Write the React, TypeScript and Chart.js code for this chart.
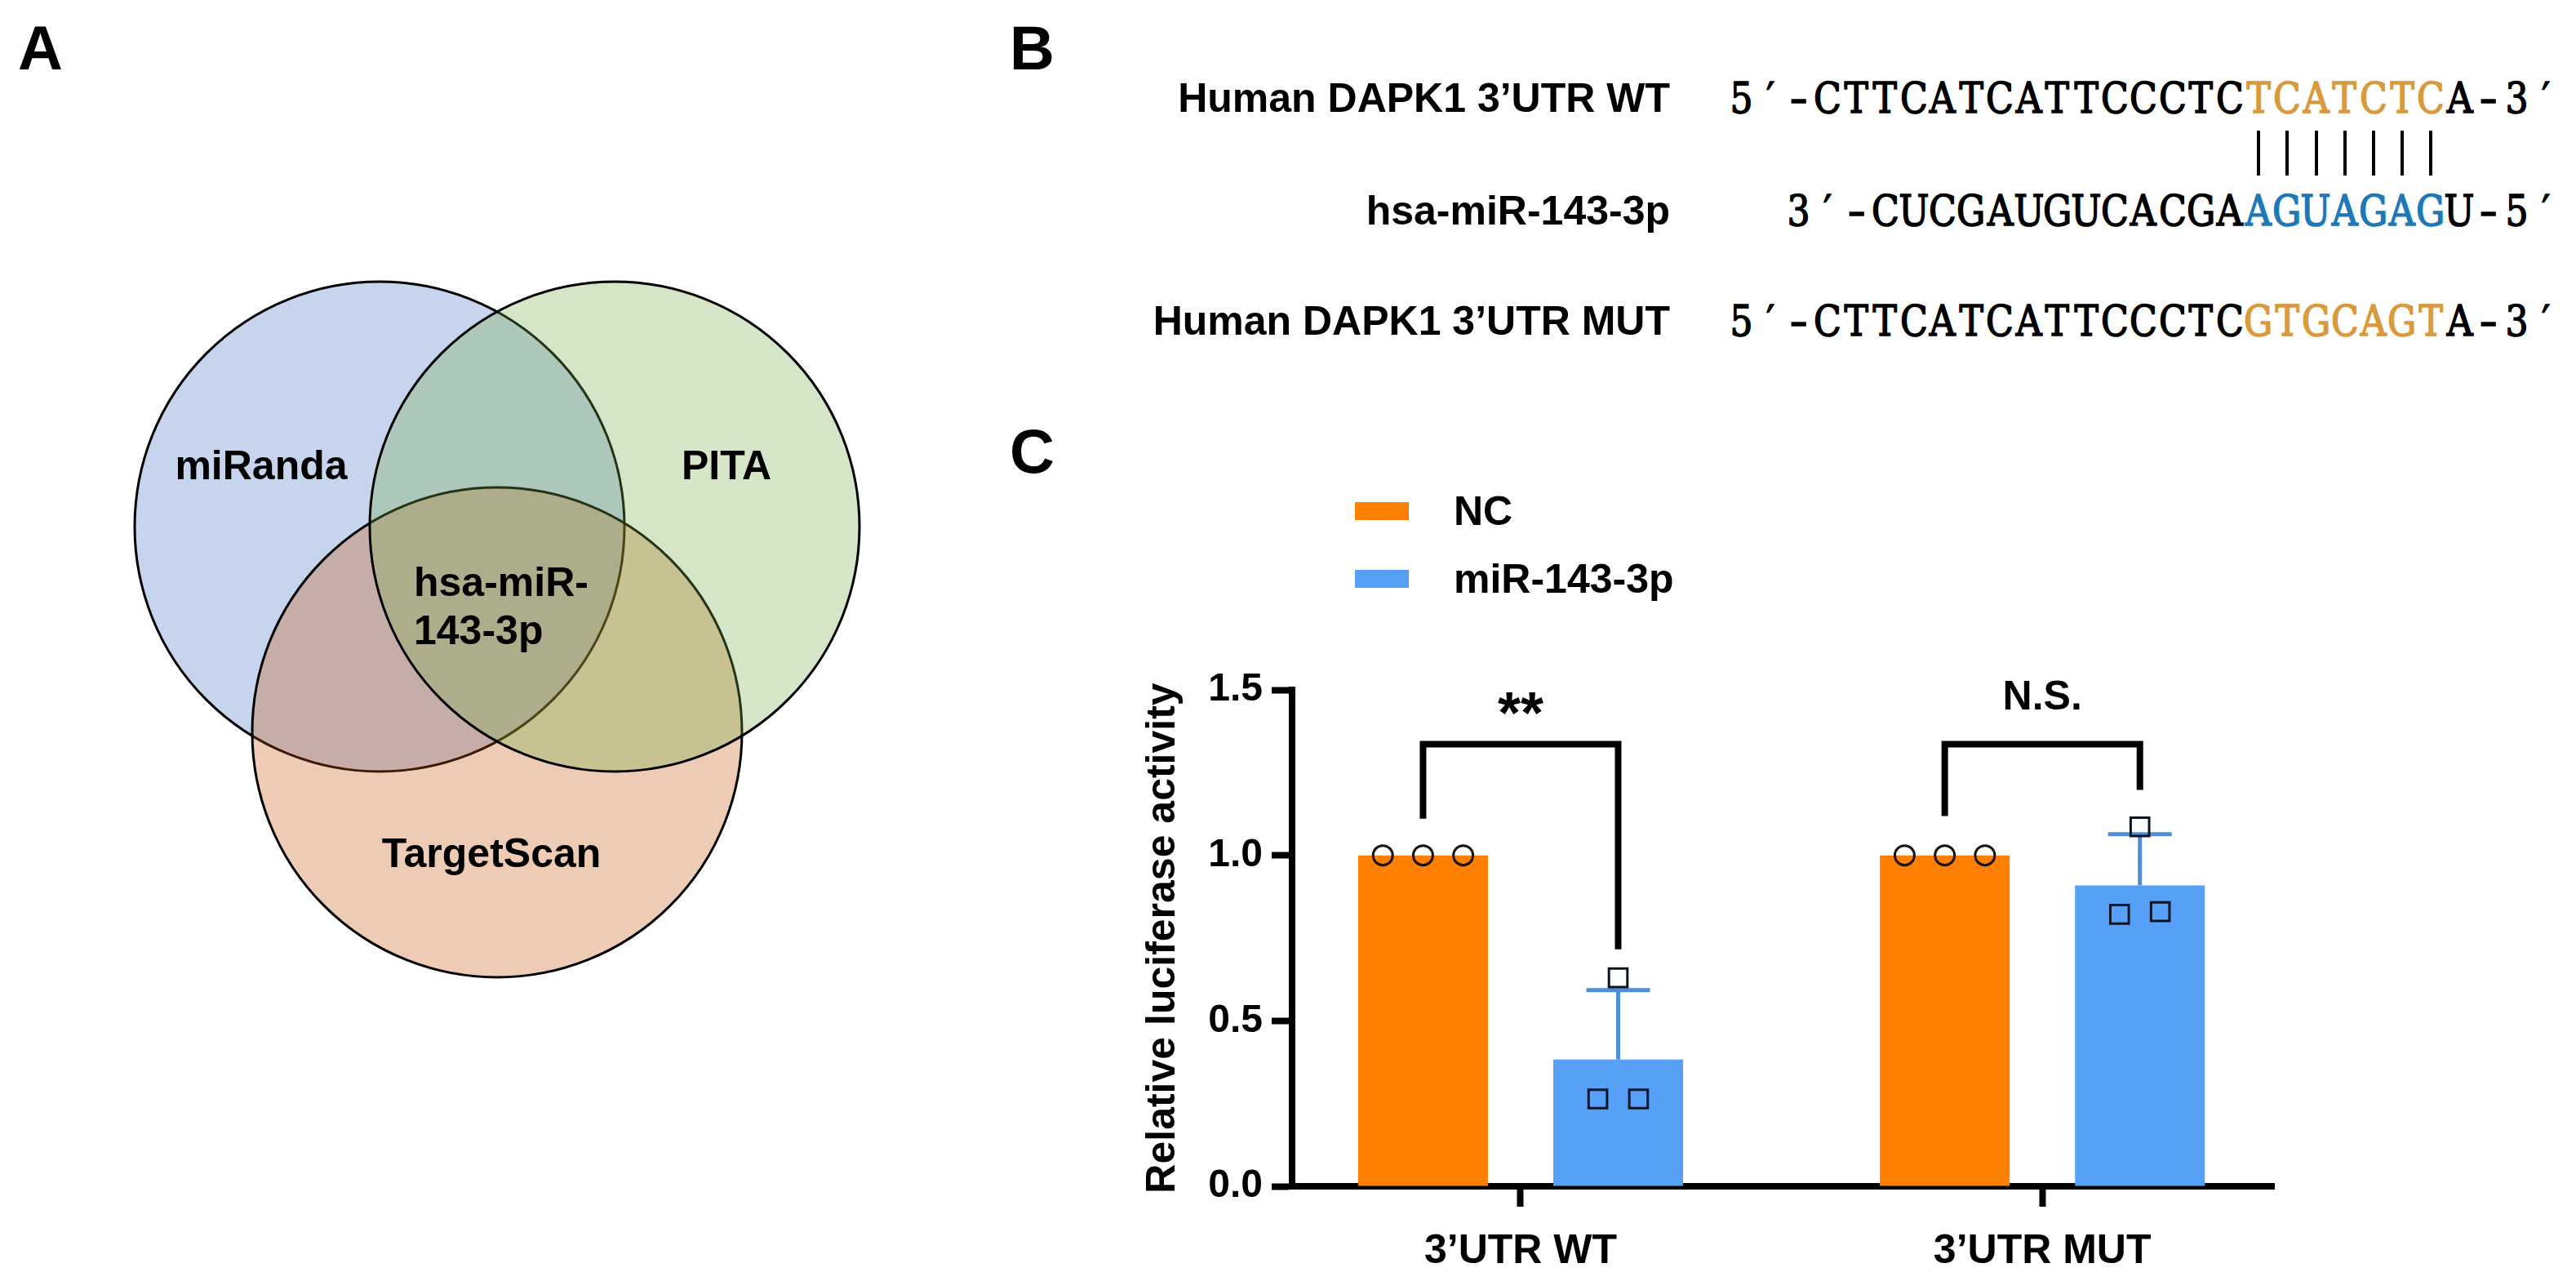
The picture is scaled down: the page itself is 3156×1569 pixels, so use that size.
import React, { useEffect, useRef } from "react";
import { Chart, registerables } from "chart.js";

Chart.register(...registerables);

// ---------------- DATA ----------------
// Panel A: Venn diagram (circles listed in drawing order)
const vennSets = ["miRanda", "TargetScan", "PITA"];
const vennCenterX = [0, 0.48, 0.96];
const vennCenterY = [0, -0.84, 0];
const vennRadius = [1, 1, 1];
const vennIntersection = ["hsa-miR-", "143-3p"];

// Panel B: sequences
const seqLabels = ["Human DAPK1 3’UTR WT", "hsa-miR-143-3p", "Human DAPK1 3’UTR MUT"];
const wtSeq = ["5′-CTTCATCATTCCCTC", "TCATCTC", "A-3′"];
const mirSeq = ["3′-CUCGAUGUCACGA", "AGUAGAG", "U-5′"];
const mutSeq = ["5′-CTTCATCATTCCCTC", "GTGCAGT", "A-3′"];

// Panel C: luciferase assay
const categories = ["3’UTR WT", "3’UTR MUT"];
const seriesNames = ["NC", "miR-143-3p"];
const ncMean = [1.0, 1.0];
const mirMean = [0.383, 0.909];
const ncSD = [0, 0];
const mirSD = [0.21, 0.155];
const ncReplicates = [
  [1.0, 1.0, 1.0],
  [1.0, 1.0, 1.0],
];
const mirReplicates = [
  [0.63, 0.264, 0.264],
  [1.086, 0.822, 0.83],
];
const yTickValues = [0, 0.5, 1.0, 1.5];
const sigLabels = ["**", "N.S."];
const bracketTop = [1.336, 1.336];
const bracketLeftEnd = [1.111, 1.119];
const bracketRightEnd = [0.716, 1.198];
const sigLabelBaseline = [1.37, 1.44];

// ---------------- STYLE ----------------
const SANS = "'Liberation Sans', Arial, Helvetica, sans-serif";
const SERIF = "'DejaVu Serif', 'Liberation Serif', serif";
const vennFills = ["rgba(68,114,196,0.3)", "rgba(197,82,5,0.3)", "rgba(112,173,71,0.3)"];
const barColors = ["#FF7F00", "#56A0F8"];
const errColors = ["#000000", "#4C8FD8"];
const seedColors = ["#D89A3C", "#1E78B6"];
const CAT_PCT = 0.748;
const BAR_PCT = 0.665;
const GROUP_OFFSET = CAT_PCT / 4;
const NC_JITTER = [-0.077, 0, 0.077];
const MIR_JITTER = [0, -0.039, 0.039];
const SEQ_FS = 52;
const SEQ_PITCH = 35.2;
const SEQ_LEFT = 2116;

type TProps = {
  x: number;
  y: number;
  size?: number;
  align?: "left" | "center" | "right";
  color?: string;
  family?: string;
  weight?: number;
  children: React.ReactNode;
};

function T({ x, y, size = 50, align = "left", color = "#000", family = SANS, weight = 700, children }: TProps) {
  const tx = align === "left" ? "0" : align === "center" ? "-50%" : "-100%";
  return (
    <div
      style={{
        position: "absolute",
        left: x,
        top: y - size / 2,
        fontSize: size,
        lineHeight: `${size}px`,
        fontFamily: family,
        fontWeight: weight,
        color,
        whiteSpace: "pre",
        transform: `translateX(${tx})`,
      }}
    >
      {children}
    </div>
  );
}

function VennChart() {
  const ref = useRef<HTMLCanvasElement | null>(null);
  useEffect(() => {
    if (!ref.current) return;
    const chart = new Chart(ref.current, {
      type: "scatter",
      data: {
        datasets: [
          {
            data: vennSets.map((_, i) => ({ x: vennCenterX[i], y: vennCenterY[i] })),
            pointRadius: (ctx: any) => {
              const s = ctx.chart.scales.x;
              const r = vennRadius[ctx.dataIndex] ?? 1;
              const v = Math.abs(s.getPixelForValue(r) - s.getPixelForValue(0));
              return isFinite(v) ? v : 0;
            },
            pointBackgroundColor: vennFills,
            pointBorderColor: "#000",
            pointBorderWidth: 3,
            pointStyle: "circle",
            clip: false,
          } as any,
        ],
      },
      options: {
        animation: false,
        responsive: false,
        events: [],
        layout: { padding: 0, autoPadding: false },
        plugins: { legend: { display: false }, tooltip: { enabled: false } },
        scales: {
          x: { type: "linear", min: -1.1, max: 2.0, display: false },
          y: { type: "linear", min: -2.0, max: 1.1, display: false },
        },
      } as any,
    });
    return () => chart.destroy();
  }, []);
  return <canvas ref={ref} width={930} height={930} style={{ position: "absolute", left: 135, top: 315 }} />;
}

const errorBarPlugin = {
  id: "errorBars",
  beforeDatasetsDraw(chart: any) {
    const { ctx } = chart;
    const y = chart.scales.y;
    chart.data.datasets.forEach((d: any, di: number) => {
      if (!d.errorSD) return;
      const meta = chart.getDatasetMeta(di);
      meta.data.forEach((bar: any, i: number) => {
        const sd = d.errorSD[i];
        if (!sd) return;
        const m = d.data[i].y;
        const y0 = y.getPixelForValue(m);
        const y1 = y.getPixelForValue(m + sd);
        ctx.save();
        ctx.strokeStyle = d.errorColor;
        ctx.lineWidth = 5;
        ctx.beginPath();
        ctx.moveTo(bar.x, y0);
        ctx.lineTo(bar.x, y1);
        ctx.moveTo(bar.x - 39, y1);
        ctx.lineTo(bar.x + 39, y1);
        ctx.stroke();
        ctx.restore();
      });
    });
  },
};

const bracketPlugin = {
  id: "sigBrackets",
  afterDatasetsDraw(chart: any) {
    const { ctx } = chart;
    const y = chart.scales.y;
    const m0 = chart.getDatasetMeta(0);
    const m1 = chart.getDatasetMeta(1);
    categories.forEach((_, i) => {
      const xL = m0.data[i].x;
      const xR = m1.data[i].x;
      const yT = y.getPixelForValue(bracketTop[i]);
      ctx.save();
      ctx.strokeStyle = "#000";
      ctx.lineWidth = 8;
      ctx.lineJoin = "miter";
      ctx.lineCap = "butt";
      ctx.beginPath();
      ctx.moveTo(xL, y.getPixelForValue(bracketLeftEnd[i]));
      ctx.lineTo(xL, yT);
      ctx.lineTo(xR, yT);
      ctx.lineTo(xR, y.getPixelForValue(bracketRightEnd[i]));
      ctx.stroke();
      const label = sigLabels[i];
      ctx.fillStyle = "#000";
      ctx.textAlign = "center";
      ctx.textBaseline = "alphabetic";
      ctx.font = label.includes("*") ? `bold 72px ${SANS}` : `bold 50px ${SANS}`;
      ctx.fillText(label, (xL + xR) / 2, y.getPixelForValue(sigLabelBaseline[i]));
      ctx.restore();
    });
  },
};

function BarChart() {
  const ref = useRef<HTMLCanvasElement | null>(null);
  useEffect(() => {
    if (!ref.current) return;
    const datasets: any[] = [
      {
        type: "bar",
        label: seriesNames[0],
        data: categories.map((_, i) => ({ x: i, y: ncMean[i] })),
        backgroundColor: barColors[0],
        errorSD: ncSD,
        errorColor: errColors[0],
        categoryPercentage: CAT_PCT,
        barPercentage: BAR_PCT,
        order: 2,
      },
      {
        type: "bar",
        label: seriesNames[1],
        data: categories.map((_, i) => ({ x: i, y: mirMean[i] })),
        backgroundColor: barColors[1],
        errorSD: mirSD,
        errorColor: errColors[1],
        categoryPercentage: CAT_PCT,
        barPercentage: BAR_PCT,
        order: 2,
      },
      {
        type: "scatter",
        label: "NC points",
        data: categories.flatMap((_, i) =>
          ncReplicates[i].map((v, k) => ({ x: i - GROUP_OFFSET + NC_JITTER[k], y: v }))
        ),
        pointStyle: "circle",
        pointRadius: 12,
        pointBorderWidth: 3,
        pointBorderColor: "#1a1108",
        pointBackgroundColor: "rgba(0,0,0,0)",
        order: 1,
      },
      {
        type: "scatter",
        label: "miR points",
        data: categories.flatMap((_, i) =>
          mirReplicates[i].map((v, k) => ({ x: i + GROUP_OFFSET + MIR_JITTER[k], y: v }))
        ),
        pointStyle: "rect",
        pointRadius: 16,
        pointBorderWidth: 3,
        pointBorderColor: "#0b1424",
        pointBackgroundColor: "rgba(0,0,0,0)",
        order: 1,
      },
    ];
    const chart = new Chart(ref.current, {
      type: "bar",
      data: { datasets },
      options: {
        animation: false,
        responsive: false,
        events: [],
        layout: { padding: { top: 85, right: 14, left: 0, bottom: 0 }, autoPadding: false },
        plugins: { legend: { display: false }, tooltip: { enabled: false } },
        scales: {
          x: {
            type: "linear",
            offset: false,
            min: -0.438,
            max: 1.444,
            afterBuildTicks: (s: any) => {
              s.ticks = categories.map((_, i) => ({ value: i }));
            },
            afterFit: (s: any) => {
              s.height = 116;
            },
            ticks: {
              callback: (v: any) => categories[Math.round(Number(v))] ?? "",
              font: { family: SANS, size: 50, weight: "bold" },
              color: "#000",
              padding: 25,
              maxRotation: 0,
              autoSkip: false,
            },
            grid: {
              display: true,
              offset: false,
              drawOnChartArea: false,
              drawTicks: true,
              tickLength: 25,
              tickWidth: 8,
              tickColor: "#000",
            },
            border: { display: true, width: 8, color: "#000" },
          },
          y: {
            type: "linear",
            min: 0,
            max: 1.5,
            afterBuildTicks: (s: any) => {
              s.ticks = yTickValues.map((v) => ({ value: v }));
            },
            afterFit: (s: any) => {
              s.width = 203;
            },
            ticks: {
              callback: (v: any) => Number(v).toFixed(1),
              font: { family: SANS, size: 48, weight: "bold" },
              color: "#000",
              padding: 11,
            },
            grid: {
              display: true,
              drawOnChartArea: false,
              drawTicks: true,
              tickLength: 25,
              tickWidth: 8,
              tickColor: "#000",
            },
            border: { display: true, width: 8, color: "#000" },
            title: {
              display: true,
              text: "Relative luciferase activity",
              font: { family: SANS, size: 50, weight: "bold" },
              color: "#000",
              padding: { top: 15, bottom: 0 },
            },
          },
        },
      } as any,
      plugins: [errorBarPlugin, bracketPlugin],
    });
    return () => chart.destroy();
  }, []);
  return <canvas ref={ref} width={1420} height={809} style={{ position: "absolute", left: 1380, top: 760 }} />;
}

function SeqRow({ y, parts, pad, seedColor }: { y: number; parts: string[]; pad: number; seedColor: string }) {
  const cells: { ch: string; color: string }[] = [];
  for (let i = 0; i < pad; i++) cells.push({ ch: "", color: "#000" });
  parts.forEach((p, pi) =>
    Array.from(p).forEach((ch) => cells.push({ ch, color: pi === 1 ? seedColor : "#000" }))
  );
  return (
    <div
      style={{
        position: "absolute",
        left: SEQ_LEFT,
        top: y - SEQ_FS / 2,
        height: SEQ_FS,
        display: "flex",
        fontFamily: SERIF,
        fontSize: SEQ_FS,
        lineHeight: `${SEQ_FS}px`,
        fontWeight: 400,
        whiteSpace: "pre",
      }}
    >
      {cells.map((c, i) => (
        <span
          key={i}
          style={{ width: SEQ_PITCH, flexShrink: 0, display: "flex", justifyContent: "center", color: c.color }}
        >
          <span
            style={{
              display: "inline-block",
              transform: c.ch === "-" ? "scaleX(1.25)" : "scaleX(0.85)",
              WebkitTextStroke: `1.6px ${c.color}`,
            }}
          >
            {c.ch}
          </span>
        </span>
      ))}
    </div>
  );
}

export default function App() {
  const rowLen = (p: string[]) => Array.from(p.join("")).length;
  const maxLen = Math.max(rowLen(wtSeq), rowLen(mirSeq), rowLen(mutSeq));
  const rowY = [120, 258, 393];
  const legendY = [626, 709];
  const pairStart = Array.from(wtSeq[0]).length;
  return (
    <div
      style={{
        position: "fixed",
        left: 0,
        top: 0,
        width: 3156,
        height: 1569,
        background: "#fff",
        overflow: "hidden",
        fontFamily: SANS,
      }}
    >
      {/* Panel letters */}
      <T x={22} y={59} size={76}>A</T>
      <T x={1237} y={59} size={76}>B</T>
      <T x={1237} y={553} size={76}>C</T>

      {/* Panel A */}
      <VennChart />
      <T x={320} y={570} align="center">{vennSets[0]}</T>
      <T x={890} y={570} align="center">{vennSets[2]}</T>
      <T x={602} y={1045} align="center">{vennSets[1]}</T>
      <T x={507} y={713}>{vennIntersection[0]}</T>
      <T x={507} y={772}>{vennIntersection[1]}</T>

      {/* Panel B */}
      {seqLabels.map((l, i) => (
        <T key={l} x={2046} y={rowY[i]} align="right">
          {l}
        </T>
      ))}
      <SeqRow y={rowY[0]} parts={wtSeq} pad={maxLen - rowLen(wtSeq)} seedColor={seedColors[0]} />
      <SeqRow y={rowY[1]} parts={mirSeq} pad={maxLen - rowLen(mirSeq)} seedColor={seedColors[1]} />
      <SeqRow y={rowY[2]} parts={mutSeq} pad={maxLen - rowLen(mutSeq)} seedColor={seedColors[0]} />
      <div
        style={{
          position: "absolute",
          left: SEQ_LEFT + pairStart * SEQ_PITCH,
          top: 160,
          height: 55,
          display: "flex",
        }}
      >
        {Array.from({ length: Array.from(wtSeq[1]).length }).map((_, i) => (
          <span key={i} style={{ width: SEQ_PITCH, flexShrink: 0, display: "flex", justifyContent: "center" }}>
            <span style={{ width: 4, height: 55, background: "#000" }} />
          </span>
        ))}
      </div>

      {/* Panel C */}
      {seriesNames.map((n, i) => (
        <React.Fragment key={n}>
          <div
            style={{
              position: "absolute",
              left: 1660,
              top: legendY[i] - 11,
              width: 66,
              height: 22,
              background: barColors[i],
            }}
          />
          <T x={1781} y={legendY[i]}>{n}</T>
        </React.Fragment>
      ))}
      <BarChart />
    </div>
  );
}
